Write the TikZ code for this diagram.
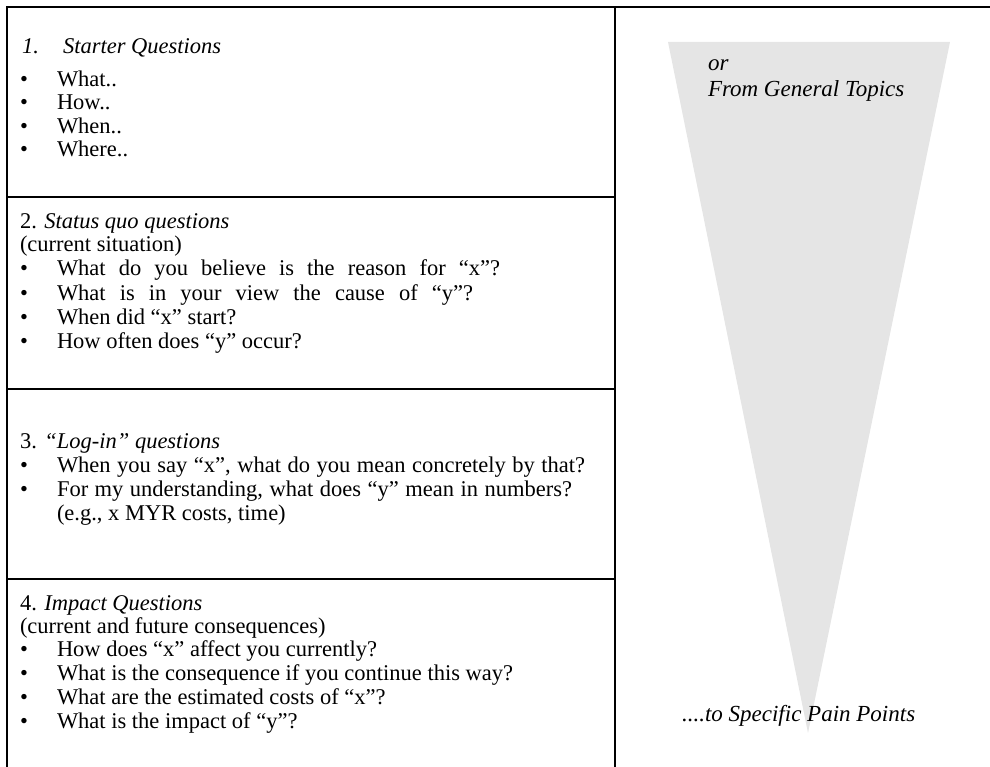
\documentclass[tikz,border=0pt]{standalone}
\usepackage{fontspec}
\setmainfont{Liberation Serif}
\begin{document}
\begin{tikzpicture}[x=1pt,y=-1pt,
  rule/.style={line width=1.7pt,black},
  txt/.style={anchor=base west,inner sep=0pt,outer sep=0pt,font=\fontsize{22.5}{24}\selectfont},
  lbl/.style={txt,font=\fontsize{23}{25}\selectfont\itshape},
  dot/.style={txt},
  item/.style={txt}]
\useasboundingbox (0,0) rectangle (990,767);

% funnel
\fill[black!10] (668,42) -- (950,42) -- (808,733) -- cycle;

% table frame
\draw[rule] (7,767) -- (7,7) -- (990,7);
\draw[rule] (615,7) -- (615,767);
\draw[rule] (7,197) -- (615,197);
\draw[rule] (7,389) -- (615,389);
\draw[rule] (7,579) -- (615,579);

% row 1: starter questions
\node[txt] (h1n) at (22,54) {\itshape 1.};
\node[txt] (h1) at (63,54) {\itshape Starter Questions};
\foreach \y/\t [count=\i] in {87/What..,110/How..,134/When..,157/Where..}{
  \node[dot] (b1\i) at (20,\y) {•};
  \node[item] (q1\i) at (57,\y) {\t};
}

% row 2: status quo questions
\node[txt] (h2) at (20,229) {2. \itshape Status quo questions};
\node[txt] (s2) at (20,252) {(current situation)};
\node[dot] (b21) at (20,276) {•};
\node[item] (q21) at (57,276) {\makebox[443pt][s]{What do you believe is the reason for “x”?}};
\node[dot] (b22) at (20,300) {•};
\node[item] (q22) at (57,300) {\makebox[416pt][s]{What is in your view the cause of “y”?}};
\node[dot] (b23) at (20,324) {•};
\node[item] (q23) at (57,324) {When did “x” start?};
\node[dot] (b24) at (20,348) {•};
\node[item] (q24) at (57,348) {How often does “y” occur?};

% row 3: log-in questions
\node[txt] (h3) at (20,448) {3. \itshape “Log-in” questions};
\node[dot] (b31) at (20,472) {•};
\node[item] (q31) at (57,472) {\makebox[528pt][s]{When you say “x”, what do you mean concretely by that?}};
\node[dot] (b32) at (20,496) {•};
\node[item] (q32) at (57,496) {\makebox[515pt][s]{For my understanding, what does “y” mean in numbers?}};
\node[item] (e3) at (57,520) {(e.g., x MYR costs, time)};

% row 4: impact questions
\node[txt] (h4) at (20,610) {4. \itshape Impact Questions};
\node[txt] (s4) at (20,633) {(current and future consequences)};
\foreach \y/\t [count=\i] in {656/{How does “x” affect you currently?},680/{What is the consequence if you continue this way?},704/{What are the estimated costs of “x”?},728/{What is the impact of “y”?}}{
  \node[dot] (b4\i) at (20,\y) {•};
  \node[item] (q4\i) at (57,\y) {\t};
}

% funnel labels
\node[lbl] (or) at (708,71) {or};
\node[lbl] (top) at (708,97) {From General Topics};
\node[lbl] (bot) at (682,721) {....to Specific Pain Points};
\end{tikzpicture}
\end{document}
